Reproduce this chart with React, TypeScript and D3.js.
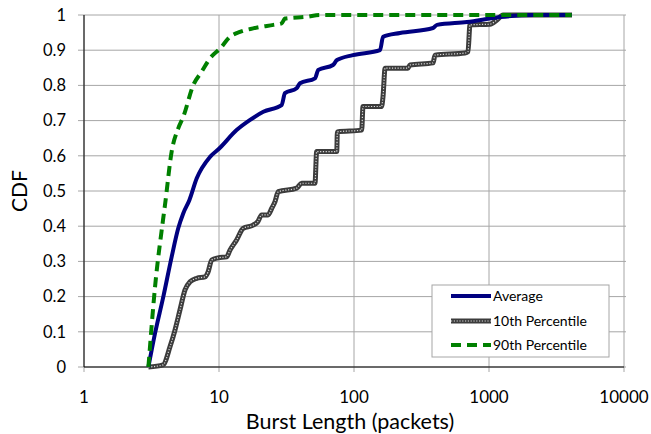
import React from "react";
import * as d3 from "d3";

// Burst length CDF series: [burst length (packets), cumulative fraction]
const averageSeries: [number, number][] = [
  [3.0, 0], [3.36, 0.096], [3.87, 0.2], [4.46, 0.313], [4.99, 0.394], [5.44, 0.437],
  [6.03, 0.474], [6.84, 0.536], [8.58, 0.597], [10.0, 0.62], [13.5, 0.673], [17, 0.702],
  [21.3, 0.725], [29.1, 0.744], [30.8, 0.778], [37.6, 0.792], [39.8, 0.806], [51.4, 0.82],
  [54.4, 0.844], [69.9, 0.858], [74.8, 0.872], [98, 0.886], [156, 0.9], [164, 0.938],
  [219, 0.949], [385, 0.963], [412, 0.972], [687, 0.98], [1206, 0.994], [2118, 1.0], [4100, 1.0],
];

const p10Series: [number, number][] = [
  [3.0, 0], [3.85, 0.006], [4.34, 0.058], [4.72, 0.105], [5.14, 0.162], [5.6, 0.219],
  [6.1, 0.242], [6.84, 0.252], [7.87, 0.256], [8.3, 0.27], [8.83, 0.304], [9.84, 0.31],
  [11.4, 0.313], [12.06, 0.332], [13.5, 0.361], [15.1, 0.394], [17.9, 0.403], [19.4, 0.413],
  [20.7, 0.432], [23.1, 0.432], [24.6, 0.451], [26, 0.47], [27.5, 0.498], [37.6, 0.508],
  [40.9, 0.522], [51.4, 0.522], [52.9, 0.612], [74.5, 0.612], [75.3, 0.668], [114, 0.673],
  [116.6, 0.74], [160, 0.74], [164, 0.768], [170, 0.849], [251, 0.849], [260, 0.858],
  [385, 0.864], [398, 0.886], [664, 0.892], [699, 0.896], [723, 0.972], [1016, 0.974],
  [1146, 0.986], [1270, 1.0], [4120, 1.0],
];

const p90Series: [number, number][] = [
  [3.0, 0], [3.36, 0.228], [3.85, 0.418], [3.98, 0.46], [4.46, 0.612], [4.99, 0.678],
  [5.44, 0.711], [6.45, 0.801], [7.44, 0.839], [8.58, 0.877], [10.2, 0.905], [12.06, 0.938],
  [14.3, 0.952], [17.9, 0.962], [25.3, 0.972], [29.1, 0.976], [30.8, 0.99], [44.7, 0.995],
  [56, 1.0], [4100, 1.0],
];

const xTicks = [1, 10, 100, 1000, 10000];
const yTicks = [0, 0.1, 0.2, 0.3, 0.4, 0.5, 0.6, 0.7, 0.8, 0.9, 1];
const legendLabels = ["Average", "10th Percentile", "90th Percentile"];

const W = 651;
const H = 434;
const FONT = "Lato, 'Open Sans', sans-serif";

export default function App() {
  const x = d3.scaleLog().domain([1, 10000]).range([84, 624]);
  const y = d3.scaleLinear().domain([0, 1]).range([367, 15]);
  const line = d3
    .line<[number, number]>()
    .x((d) => x(d[0]))
    .y((d) => y(d[1]))
    .curve(d3.curveMonotoneX);

  const grid = "#a6a6a6";
  const blue = "#000080";
  const green = "#008000";
  const gray = "#3c3c3c";
  const dot = "#dcdcdc";

  const legendX = 432;
  const legendY = 285;
  const rows = [296, 321, 345];

  return (
    <svg
      width={W}
      height={H}
      style={{ position: "absolute", left: 0, top: 0 }}
      fontFamily={FONT}
    >
      <rect width={W} height={H} fill="#fff" />
      {/* horizontal gridlines with outside ticks */}
      {yTicks.map((t) => (
        <line key={"h" + t} x1={78} x2={626} y1={y(t)} y2={y(t)} stroke={grid} strokeWidth={1} />
      ))}
      {/* vertical gridlines with outside ticks */}
      {xTicks.map((t) => (
        <line key={"v" + t} x1={x(t)} x2={x(t)} y1={y(1)} y2={y(0) + 5} stroke={grid} strokeWidth={1} />
      ))}
      {/* axes */}
      <line x1={x(1)} x2={x(1)} y1={y(1)} y2={y(0)} stroke="#000" strokeWidth={1} />
      <line x1={x(1)} x2={x(10000)} y1={y(0)} y2={y(0)} stroke="#000" strokeWidth={1} />

      {/* tick labels */}
      {yTicks.map((t) => (
        <text key={"yl" + t} x={66} y={y(t)} dy="0.35em" textAnchor="end" fontSize={16.5} fill="#000">
          {d3.format("")(+t.toFixed(1))}
        </text>
      ))}
      {xTicks.map((t) => (
        <text key={"xl" + t} x={x(t)} y={403} textAnchor="middle" fontSize={17} fill="#000">
          {t}
        </text>
      ))}
      <text x={350} y={429} textAnchor="middle" fontSize={21.5} fill="#000">
        Burst Length (packets)
      </text>
      <text
        transform={`translate(27, ${y(0.5)}) rotate(-90)`}
        textAnchor="middle"
        fontSize={21}
        fill="#000"
      >
        CDF
      </text>

      {/* series */}
      <path d={line(p10Series) ?? ""} fill="none" stroke={gray} strokeWidth={5} strokeLinejoin="round" />
      <path
        d={line(p10Series) ?? ""}
        fill="none"
        stroke={dot}
        strokeWidth={1.2}
        strokeDasharray="1.2,1.6"
        strokeLinejoin="round"
      />
      <path d={line(averageSeries) ?? ""} fill="none" stroke={blue} strokeWidth={4} strokeLinejoin="round" />
      <path
        d={line(p90Series) ?? ""}
        fill="none"
        stroke={green}
        strokeWidth={4}
        strokeDasharray="10,6"
        strokeLinejoin="round"
      />

      {/* legend */}
      <rect x={legendX} y={legendY} width={177} height={72} fill="#fff" stroke="#a6a6a6" strokeWidth={1} />
      <line x1={451} x2={491} y1={rows[0]} y2={rows[0]} stroke={blue} strokeWidth={4} />
      <line x1={451} x2={491} y1={rows[1]} y2={rows[1]} stroke={gray} strokeWidth={5} />
      <line
        x1={451}
        x2={491}
        y1={rows[1]}
        y2={rows[1]}
        stroke={dot}
        strokeWidth={1.2}
        strokeDasharray="1.2,1.6"
      />
      <line
        x1={451}
        x2={491}
        y1={rows[2]}
        y2={rows[2]}
        stroke={green}
        strokeWidth={4}
        strokeDasharray="10,6"
      />
      {legendLabels.map((l, i) => (
        <text key={l} x={493} y={rows[i]} dy="0.35em" fontSize={14} fill="#000">
          {l}
        </text>
      ))}
    </svg>
  );
}
